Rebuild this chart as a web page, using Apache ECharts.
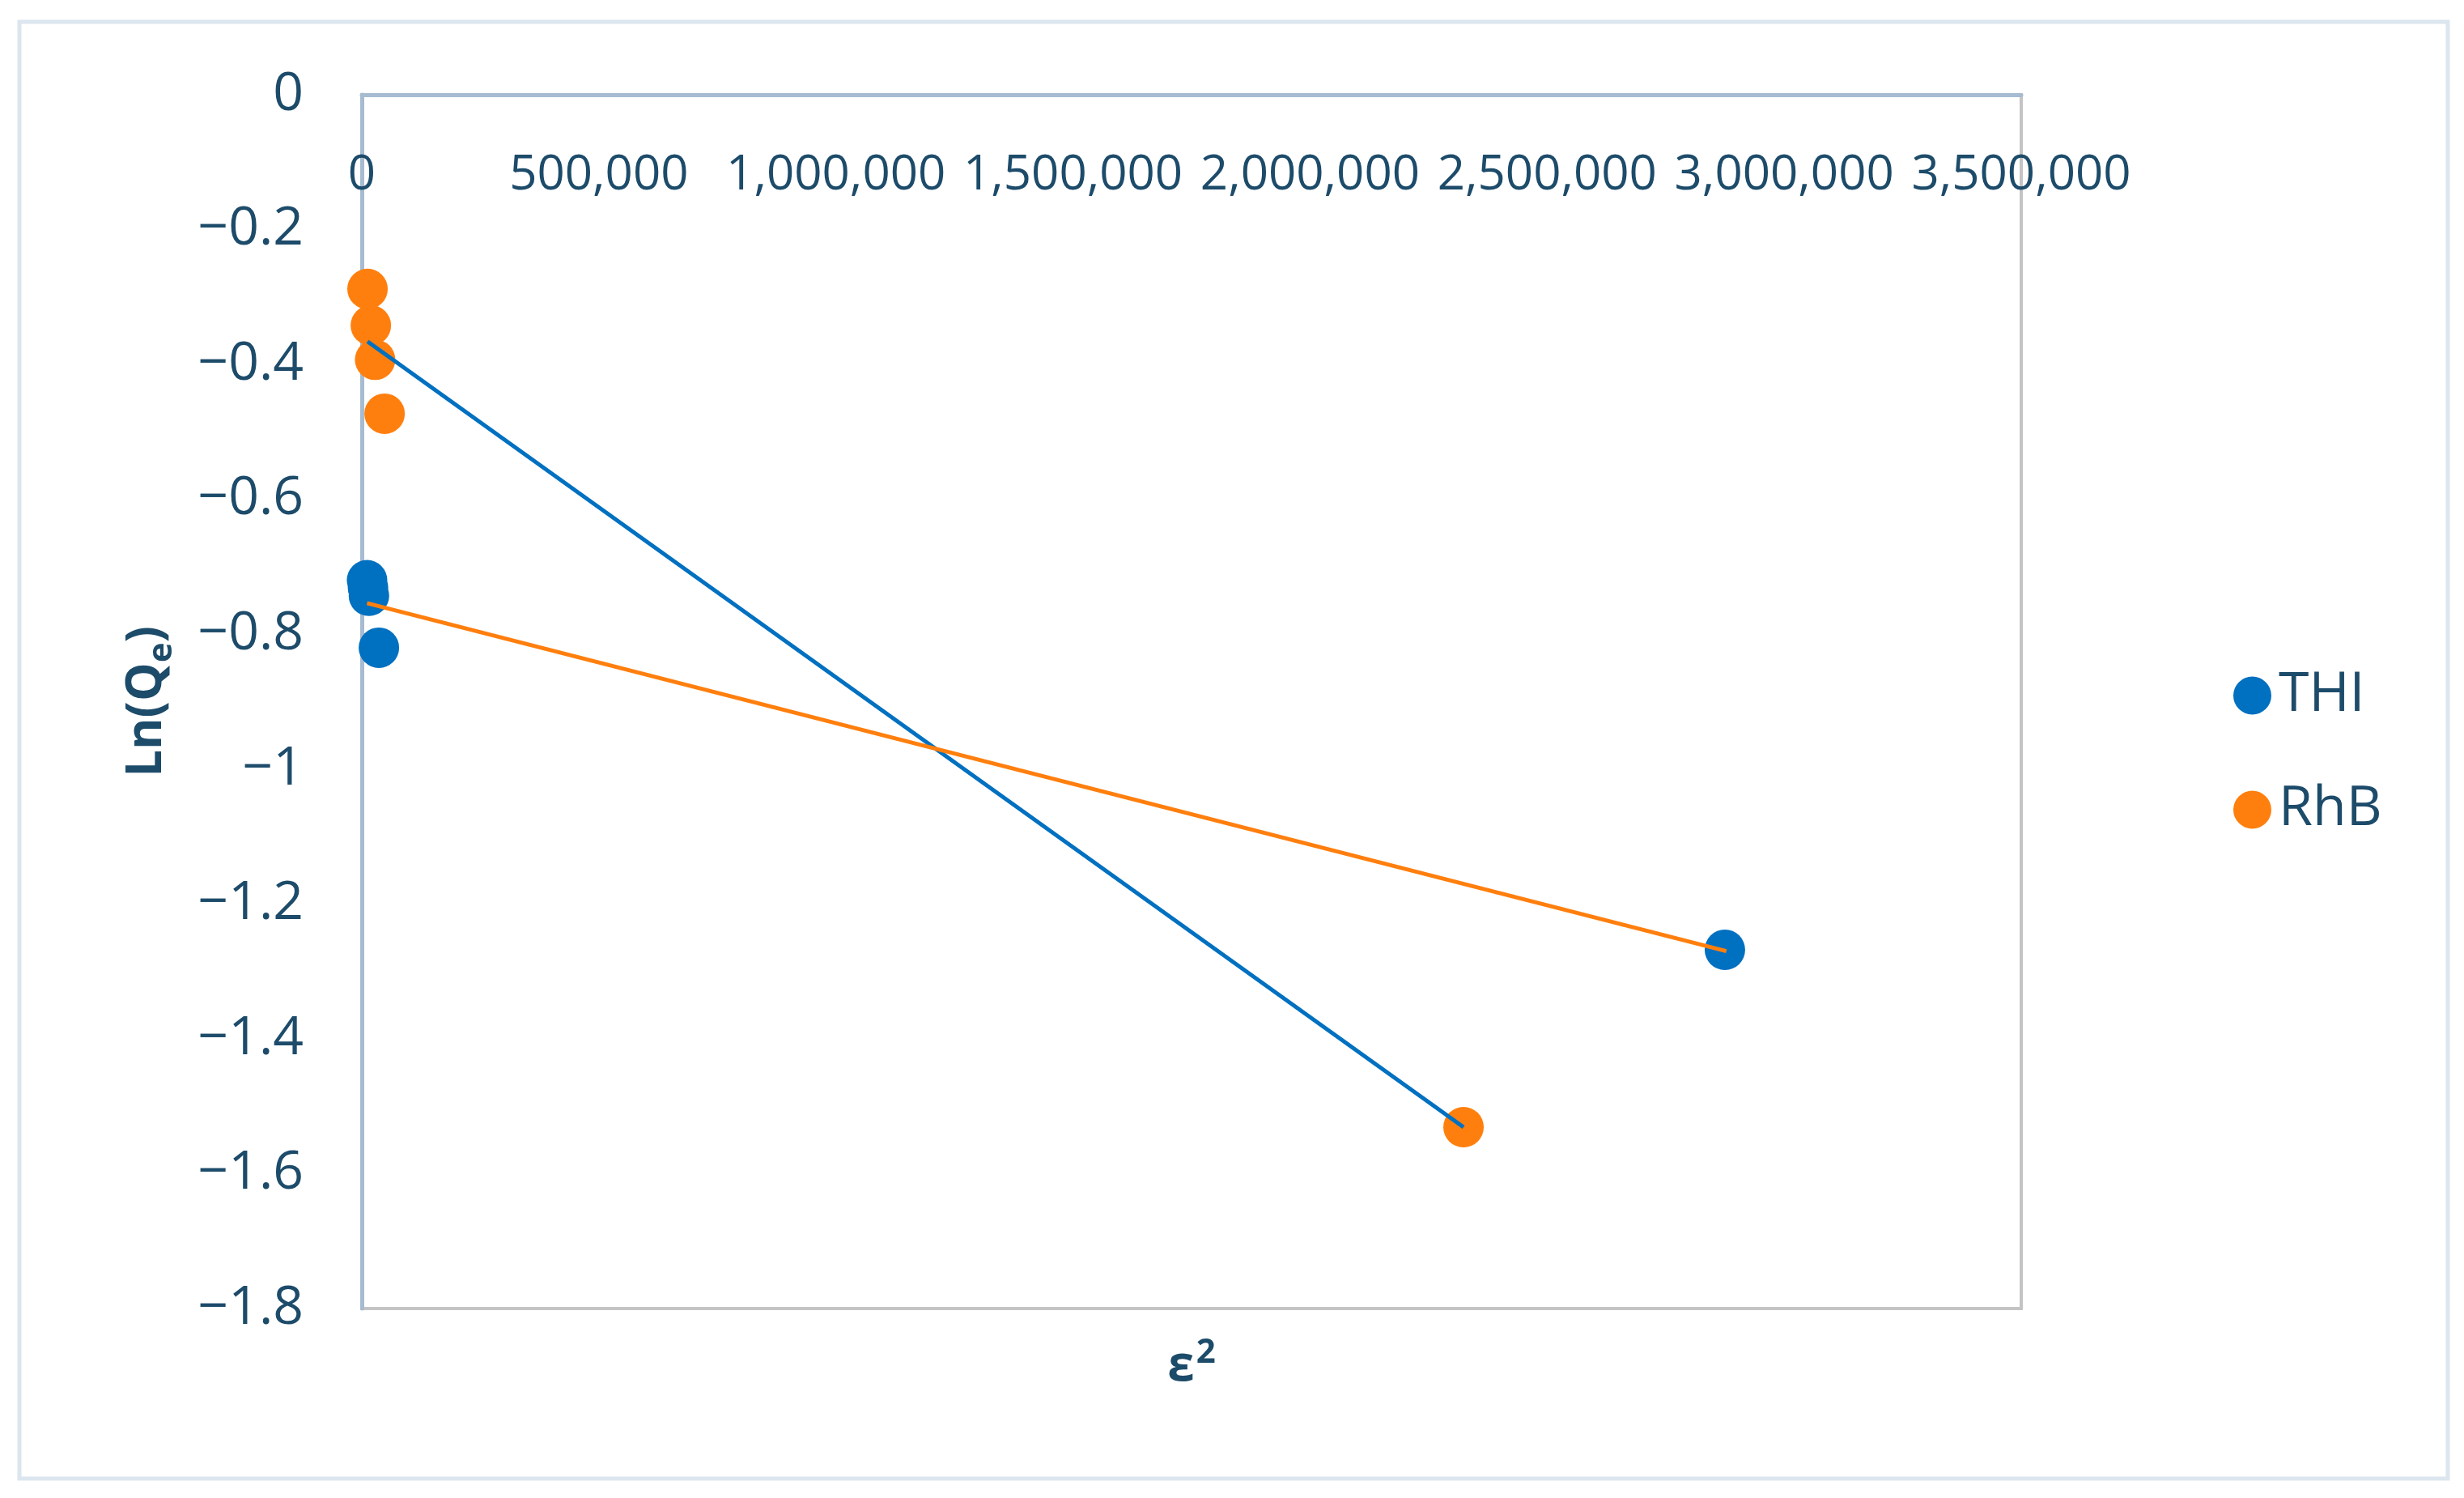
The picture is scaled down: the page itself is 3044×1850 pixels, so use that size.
<!DOCTYPE html>
<html>
<head>
<meta charset="utf-8">
<script src="https://cdn.jsdelivr.net/npm/echarts@6/dist/echarts.min.js"></script>
<style>html,body{margin:0;padding:0;background:#fff}#c{width:3044px;height:1850px}</style>
</head>
<body>
<div id="c"></div>
<script>
// ---- data ----
const seriesNames = ['THI', 'RhB'];
const thiX = [11000, 13000, 15000, 36000, 2875000];
const thiY = [-0.720, -0.731, -0.743, -0.820, -1.268];
const rhbX = [12000, 19000, 28000, 48000, 2323700];
const rhbY = [-0.288, -0.342, -0.393, -0.473, -1.531];
// trend lines as drawn (start and end points)
const thiTrendX = [12000, 2323700];
const thiTrendY = [-0.366, -1.531];
const rhbTrendX = [11000, 2878000];
const rhbTrendY = [-0.754, -1.270];
const xTicks = { min: 0, max: 3500000, step: 500000 };
const yTicks = { min: -1.8, max: 0, step: 0.2 };

const pairs = (xs, ys) => xs.map((x, i) => [x, ys[i]]);

const TEXT = '#1D4B6A';
const FONT = 'Open Sans';
const BLUE = '#0070C0';
const ORANGE = '#FF7F0E';

const chart = echarts.init(document.getElementById('c'), null, { renderer: 'canvas' });
chart.setOption({
  backgroundColor: '#ffffff',
  animation: false,
  textStyle: { fontFamily: FONT },
  graphic: [{
    type: 'rect', z: -10,
    shape: { x: 24, y: 27, width: 3000, height: 1799 },
    style: { fill: 'none', stroke: '#DCE6EF', lineWidth: 5 }
  }],
  grid: {
    left: 447, top: 117, right: 547, bottom: 234,
    show: true, borderColor: '#C4C4C4', borderWidth: 4
  },
  legend: {
    data: seriesNames,
    orient: 'vertical',
    left: 2754, top: 820,
    itemWidth: 47, itemHeight: 47, itemGap: 73,
    icon: 'circle',
    textStyle: { color: TEXT, fontSize: 68, fontFamily: FONT, lineHeight: 68, padding: [0, 0, 0, 4] }
  },
  xAxis: [{
    type: 'value', position: 'top',
    min: xTicks.min, max: xTicks.max, interval: xTicks.step,
    axisLine: { show: true, lineStyle: { color: '#A7BBD1', width: 5 } },
    axisTick: { show: false },
    splitLine: { show: false },
    axisLabel: {
      inside: true, margin: 70, color: TEXT, fontSize: 60, fontFamily: FONT,
      formatter: v => v.toLocaleString('en-US')
    }
  }, {
    type: 'value', position: 'bottom',
    min: xTicks.min, max: xTicks.max,
    axisLine: { show: false }, axisTick: { show: false },
    axisLabel: { show: false }, splitLine: { show: false },
    name: 'ε{s|2}', nameLocation: 'middle', nameGap: 34,
    nameTextStyle: {
      color: TEXT, fontSize: 60, fontWeight: 'bold', fontFamily: FONT,
      rich: { s: { fontSize: 42, fontWeight: 'bold', color: TEXT, fontFamily: FONT, padding: [0, 0, 34, 2] } }
    }
  }],
  yAxis: {
    type: 'value',
    min: yTicks.min, max: yTicks.max, interval: yTicks.step,
    axisLine: { show: true, onZero: false, lineStyle: { color: '#A7BBD1', width: 5 } },
    axisTick: { show: false },
    splitLine: { show: false },
    axisLabel: {
      margin: 72, color: TEXT, fontSize: 66, fontFamily: FONT,
      formatter: v => { const r = Math.round(v * 10) / 10; return r < 0 ? '\u2212' + String(-r) : String(r); }
    },
    name: 'Ln(Q{e|e})', nameLocation: 'middle', nameRotate: 90, nameGap: 226,
    nameTextStyle: {
      color: TEXT, fontSize: 60, fontWeight: 'bold', fontFamily: FONT,
      rich: { e: { fontSize: 42, fontWeight: 'bold', color: TEXT, fontFamily: FONT, padding: [36, 0, 0, 0] } }
    }
  },
  series: [
    { name: 'THI', type: 'scatter', data: pairs(thiX, thiY), symbolSize: 50, itemStyle: { color: BLUE, opacity: 1 }, z: 2 },
    { name: 'RhB', type: 'scatter', data: pairs(rhbX, rhbY), symbolSize: 50, itemStyle: { color: ORANGE, opacity: 1 }, z: 2 },
    { name: 'THI trend', type: 'line', data: pairs(thiTrendX, thiTrendY), showSymbol: false, symbol: 'none',
      lineStyle: { color: BLUE, width: 5 }, itemStyle: { color: BLUE }, z: 5 },
    { name: 'RhB trend', type: 'line', data: pairs(rhbTrendX, rhbTrendY), showSymbol: false, symbol: 'none',
      lineStyle: { color: ORANGE, width: 5 }, itemStyle: { color: ORANGE }, z: 5 }
  ]
});
</script>
</body>
</html>
